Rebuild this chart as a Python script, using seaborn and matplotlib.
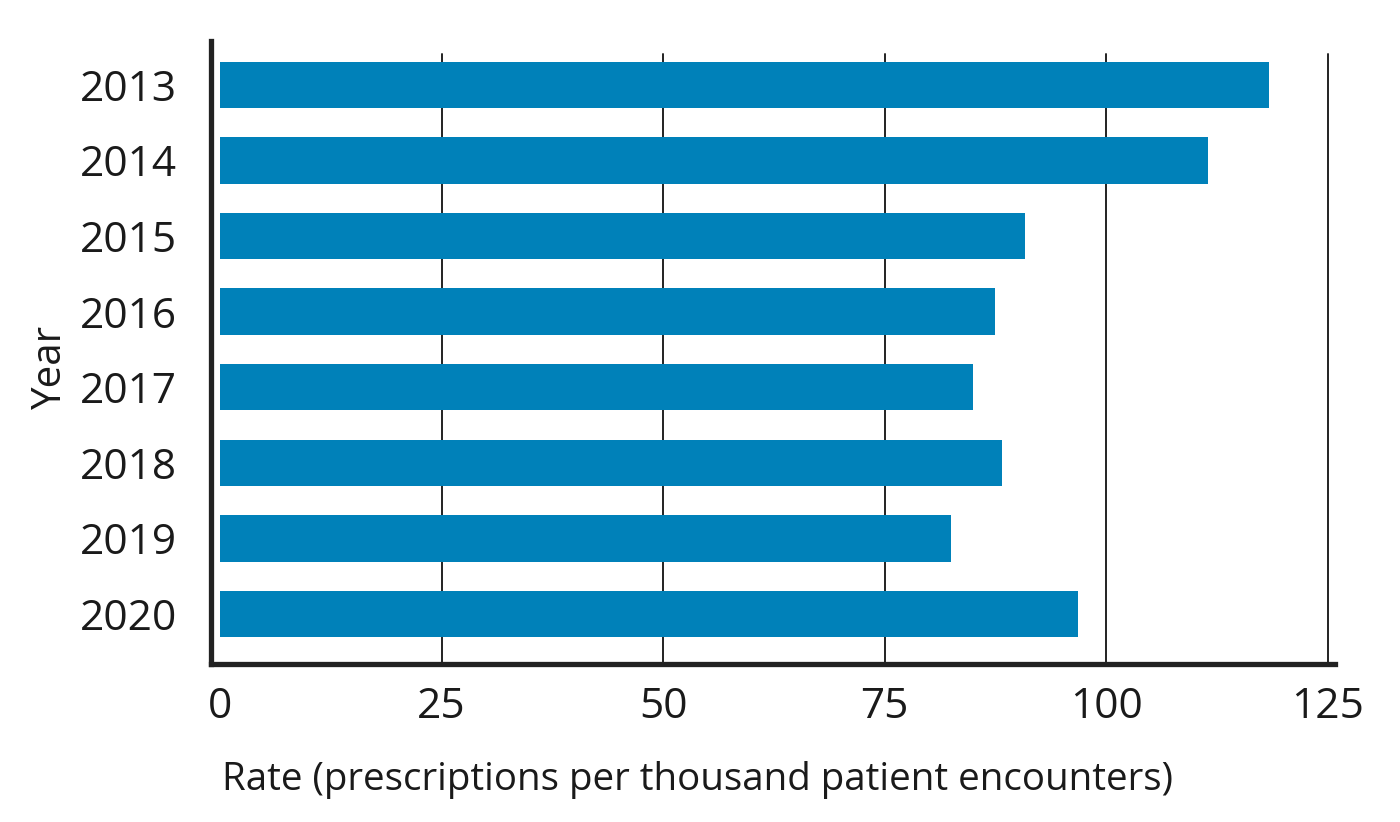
import matplotlib
matplotlib.use("Agg")
import matplotlib.pyplot as plt
import seaborn as sns
import pandas as pd

years = ["2013", "2014", "2015", "2016", "2017", "2018", "2019", "2020"]
rates = [118.3, 111.5, 90.8, 87.4, 85.0, 88.2, 82.5, 96.8]
xticks = [0, 25, 50, 75, 100, 125]

df = pd.DataFrame({"Year": years, "Rate": rates})

sns.set_theme(style="white")
plt.rcParams["font.family"] = ["Open Sans", "DejaVu Sans"]
txt = "#1a1a1a"

fig = plt.figure(figsize=(14, 8.22), dpi=100)
ax = fig.add_axes([0.1504, 0.1928, 0.8032, 0.7573])

sns.barplot(data=df, x="Rate", y="Year", orient="h", color="#0081B9",
            saturation=1, width=0.615, ax=ax, edgecolor="none")

ax.set_xlim(-1.07, 125.8)
ax.set_ylim(7.655, -0.58)
for t in xticks[1:]:
    ax.axvline(t, ymax=0.979, color="#222222", lw=1.4, zorder=0)

ax.set_xticks(xticks)
ax.set_xticklabels([str(t) for t in xticks])
ax.tick_params(axis="both", length=0, labelsize=30.5, colors=txt)
ax.tick_params(axis="y", pad=24)
ax.tick_params(axis="x", pad=16)

for s in ["top", "right"]:
    ax.spines[s].set_visible(False)
for s in ["left", "bottom"]:
    ax.spines[s].set_color("#222222")
    ax.spines[s].set_linewidth(3.8)

ax.set_xlabel("Rate (prescriptions per thousand patient encounters)",
              fontsize=27.7, color=txt)
ax.xaxis.label.set_va("baseline")
ax.xaxis.set_label_coords(0.433, -0.2032)
ax.set_ylabel("Year", fontsize=29, color=txt)
ax.yaxis.set_label_coords(-0.1245, 0.476)

fig.savefig("out.png", dpi=100, facecolor="white")
